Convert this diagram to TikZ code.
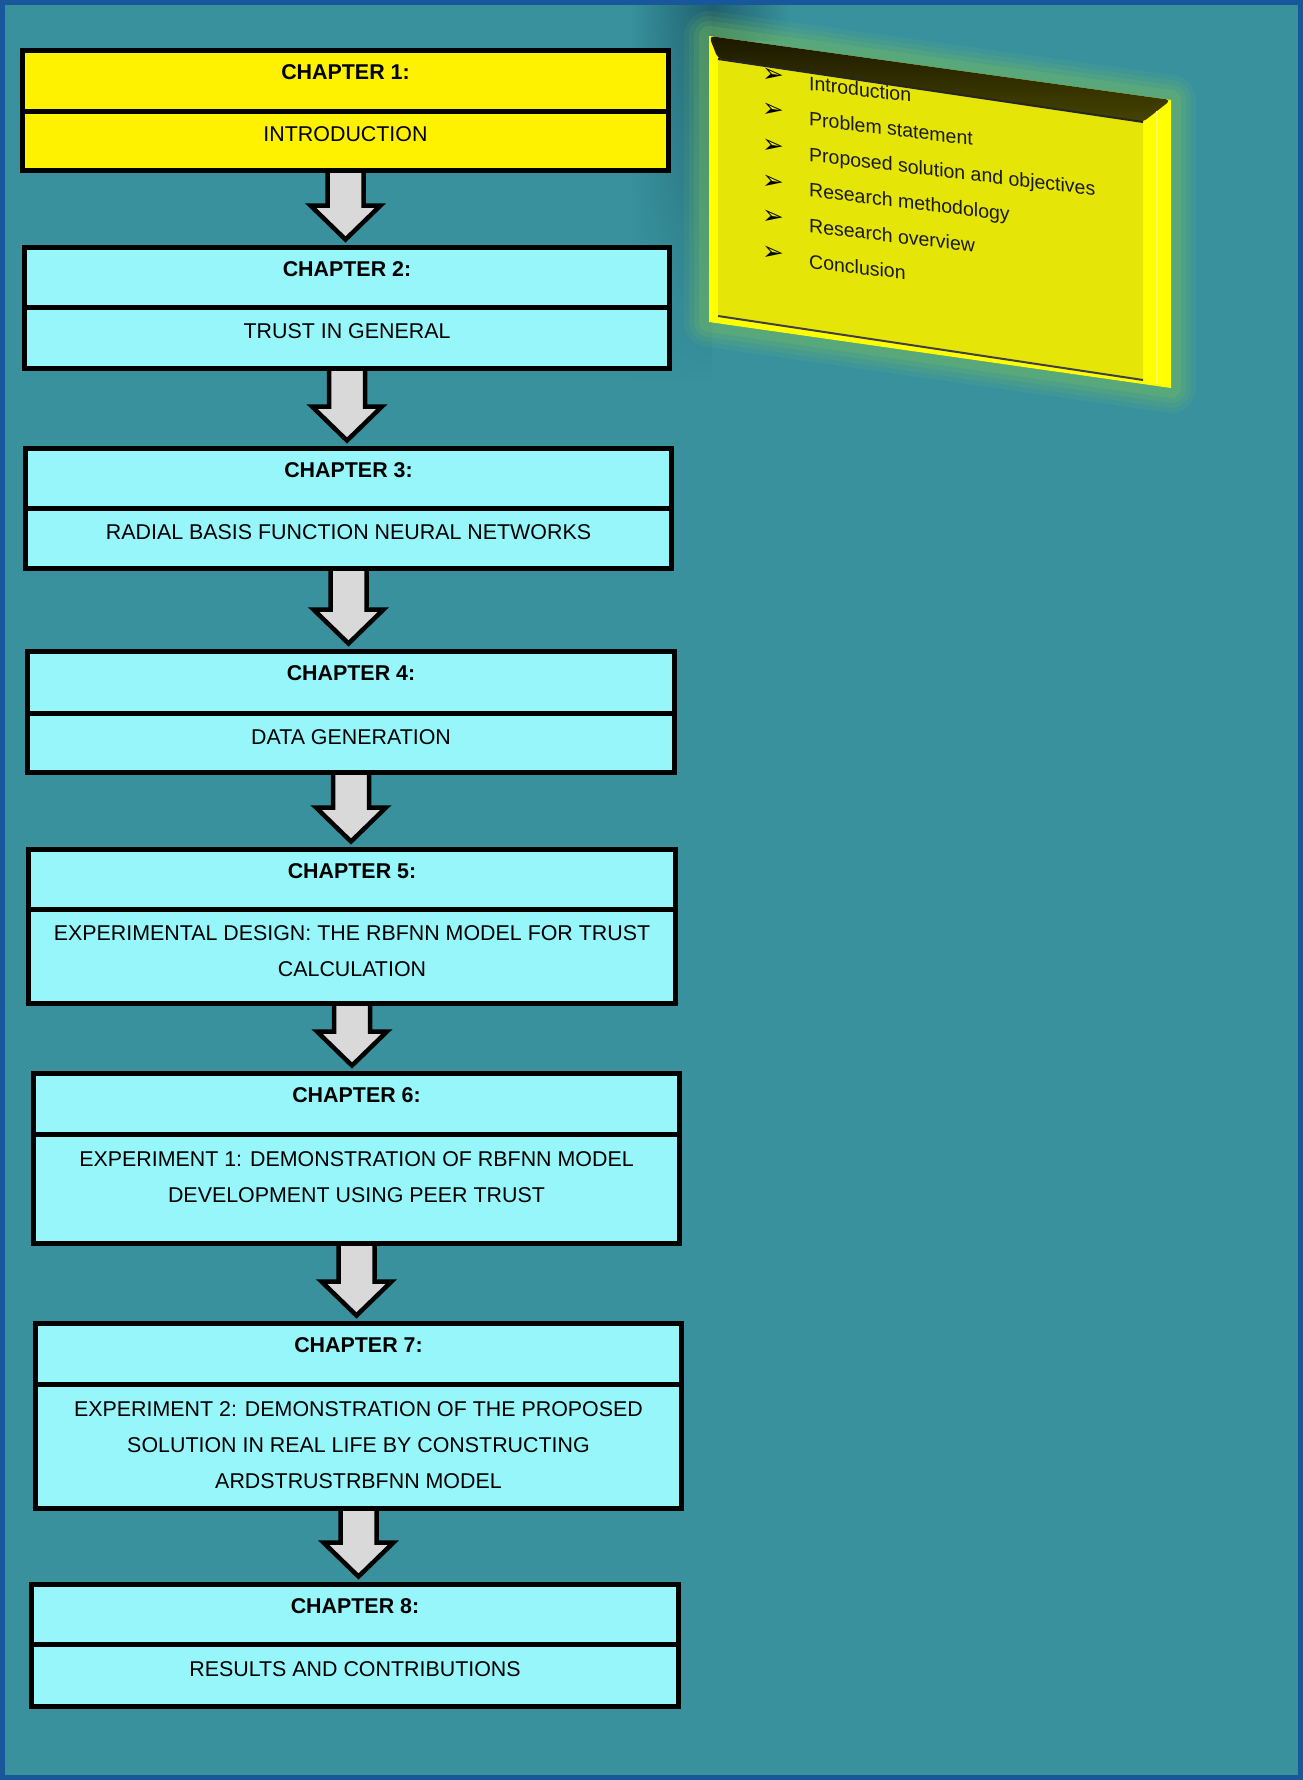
\documentclass[tikz,border=0pt]{standalone}
\usepackage{fontspec}
\setmainfont{Liberation Sans}
\newfontfamily\dingfont{DejaVu Sans}
\usetikzlibrary{calc,fadings}

\definecolor{pagebg}{RGB}{56,145,157}
\definecolor{framec}{RGB}{24,88,154}
\definecolor{cyanbox}{RGB}{150,246,250}
\definecolor{arrowgrey}{RGB}{217,217,217}
\definecolor{boardface}{RGB}{229,229,8}
\definecolor{boardedge}{RGB}{255,255,0}
\definecolor{boardtop}{RGB}{38,34,0}
\definecolor{glowc}{RGB}{125,195,90}
\definecolor{shadowc}{RGB}{32,96,110}

\pgfdeclarelayer{under}
\pgfsetlayers{under,main}

% block arrow from the bottom of one box to just above the next one
\newcommand\flowarrow[2]{%
  \draw[barrow] let \p1=(#1.south), \p2=(#2.north) in
    (\x1-18pt,\y1) -- (\x1-18pt,\y2+42pt) -- (\x1-35pt,\y2+42pt) --
    (\x1,\y2+8pt) -- (\x1+35pt,\y2+42pt) -- (\x1+18pt,\y2+42pt) --
    (\x1+18pt,\y1) -- cycle;}

\begin{document}
\begin{tikzpicture}[x=1pt,y=-1pt,
  part/.style={draw=black, line width=5pt, rectangle, inner sep=0pt,
    outer sep=0pt, anchor=north west},
  hdrtxt/.style={font=\fontsize{21.4}{36}\selectfont\bfseries, inner sep=0pt},
  bodytxt/.style={font=\fontsize{21.4}{36}\selectfont, inner sep=0pt, align=center},
  barrow/.style={draw=black, fill=arrowgrey, line width=4.5pt, line join=miter},
  paneltxt/.style={font=\fontsize{19.5}{24}\selectfont, inner sep=0pt,
    anchor=base west, text=black!90},
  bullet/.style={font=\dingfont\fontsize{26}{28}\selectfont, inner sep=0pt, text=black},
]
\useasboundingbox (0,0) rectangle (1303,1780);

% ---- chapter boxes: header part and body part ----
\node[part, fill=yellow, minimum width=646, minimum height=61] (h1) at (22.5,50.5) {};
\node[part, fill=yellow, minimum width=646, minimum height=59] (b1) at (22.5,111.5) {};
\node[hdrtxt] (ht1) at ($(h1.north)+(0,22)$) {CHAPTER 1:};
\node[bodytxt] (bt1) at ($(b1.north)+(0,23)$) {INTRODUCTION};

\node[part, fill=cyanbox, minimum width=645, minimum height=60] (h2) at (24.5,247.5) {};
\node[part, fill=cyanbox, minimum width=645, minimum height=61] (b2) at (24.5,307.5) {};
\node[hdrtxt] (ht2) at ($(h2.north)+(0,22)$) {CHAPTER 2:};
\node[bodytxt] (bt2) at ($(b2.north)+(0,24)$) {TRUST IN GENERAL};

\node[part, fill=cyanbox, minimum width=646, minimum height=60] (h3) at (25.5,448.5) {};
\node[part, fill=cyanbox, minimum width=646, minimum height=60] (b3) at (25.5,508.5) {};
\node[hdrtxt] (ht3) at ($(h3.north)+(0,22)$) {CHAPTER 3:};
\node[bodytxt] (bt3) at ($(b3.north)+(0,24)$) {RADIAL BASIS FUNCTION NEURAL NETWORKS};

\node[part, fill=cyanbox, minimum width=647, minimum height=62] (h4) at (27.5,651.5) {};
\node[part, fill=cyanbox, minimum width=647, minimum height=59] (b4) at (27.5,713.5) {};
\node[hdrtxt] (ht4) at ($(h4.north)+(0,22)$) {CHAPTER 4:};
\node[bodytxt] (bt4) at ($(b4.north)+(0,24)$) {DATA GENERATION};

\node[part, fill=cyanbox, minimum width=647, minimum height=60] (h5) at (28.5,849.5) {};
\node[part, fill=cyanbox, minimum width=647, minimum height=94] (b5) at (28.5,909.5) {};
\node[hdrtxt] (ht5) at ($(h5.north)+(0,22)$) {CHAPTER 5:};
\node[bodytxt] (bt5) at ($(b5.north)+(0,42)$) {EXPERIMENTAL DESIGN: THE RBFNN MODEL FOR TRUST\\CALCULATION};

\node[part, fill=cyanbox, minimum width=646, minimum height=61] (h6) at (33.5,1073.5) {};
\node[part, fill=cyanbox, minimum width=646, minimum height=109] (b6) at (33.5,1134.5) {};
\node[hdrtxt] (ht6) at ($(h6.north)+(0,22)$) {CHAPTER 6:};
\node[bodytxt] (bt6) at ($(b6.north)+(0,43)$) {EXPERIMENT 1: DEMONSTRATION OF RBFNN MODEL\\DEVELOPMENT USING PEER TRUST};

\node[part, fill=cyanbox, minimum width=646, minimum height=61] (h7) at (35.5,1323.5) {};
\node[part, fill=cyanbox, minimum width=646, minimum height=124] (b7) at (35.5,1384.5) {};
\node[hdrtxt] (ht7) at ($(h7.north)+(0,22)$) {CHAPTER 7:};
\node[bodytxt] (bt7) at ($(b7.north)+(0,61)$) {EXPERIMENT 2: DEMONSTRATION OF THE PROPOSED\\SOLUTION IN REAL LIFE BY CONSTRUCTING\\ARDSTRUSTRBFNN MODEL};

\node[part, fill=cyanbox, minimum width=647, minimum height=60] (h8) at (31.5,1584.5) {};
\node[part, fill=cyanbox, minimum width=647, minimum height=62] (b8) at (31.5,1644.5) {};
\node[hdrtxt] (ht8) at ($(h8.north)+(0,22)$) {CHAPTER 8:};
\node[bodytxt] (bt8) at ($(b8.north)+(0,25)$) {RESULTS AND CONTRIBUTIONS};

% ---- page background, shadow and arrows behind the boxes ----
\begin{pgfonlayer}{under}
  \fill[pagebg] (0,0) rectangle (1303,1780);
  \shade[left color=pagebg, right color=shadowc, path fading=south]
    (630,4) rectangle (712,380);
  \shade[left color=shadowc, right color=pagebg] (712,4) rectangle (790,40);
  \flowarrow{b1}{h2}
  \flowarrow{b2}{h3}
  \flowarrow{b3}{h4}
  \flowarrow{b4}{h5}
  \flowarrow{b5}{h6}
  \flowarrow{b6}{h7}
  \flowarrow{b7}{h8}
\end{pgfonlayer}

% ---- outline board with its glow ----
\coordinate (PA) at (709,36);
\coordinate (PB) at (1171,100);
\coordinate (PC) at (1171,388);
\coordinate (PD) at (709,322);
\coordinate (FA) at (718,59);
\coordinate (FB) at (1143,122);
\coordinate (FC) at (1143,380);
\coordinate (FD) at (718,316);

\begin{scope}[shift={(8,-5)}]
  \foreach \w/\o in {50/0.10, 40/0.12, 30/0.16, 20/0.22} {
    \draw[glowc, line width=\w pt, opacity=\o, line join=round]
      (PA) -- (PB) -- (PC) -- (PD) -- cycle;
  }
\end{scope}
\fill[boardedge] (PA) -- (PB) -- (PC) -- (PD) -- cycle;
\fill[boardface] (FA) -- (FB) -- (FC) -- (FD) -- cycle;
\shade[top color=boardtop!70!black, bottom color=boardtop!85!yellow, rounded corners=5pt]
  (PA) -- (PB) -- (FB) -- (FA) -- cycle;
\draw[yellow!60!white, line width=1.5pt] ($(PB)!0.5!(FB)$) -- ($(PC)!0.5!(FC)$);
\draw[black!85, line width=2pt] (FA) -- (FB);
\draw[black!75, line width=2pt] (FD) -- (FC);

\begin{scope}[shift={(809,90)}, yslant=-0.12, transform shape]
  \node[paneltxt] (p1) at (0,0) {Introduction};
  \node[paneltxt] (p2) at (0,35.6) {Problem statement};
  \node[paneltxt] (p3) at (0,71.2) {Proposed solution and objectives};
  \node[paneltxt] (p4) at (0,106.8) {Research methodology};
  \node[paneltxt] (p5) at (0,142.4) {Research overview};
  \node[paneltxt] (p6) at (0,178) {Conclusion};
  \foreach \i in {0,...,5} {
    \node[bullet] (m\i) at (-36,35.6*\i-10) {➢};
  }
\end{scope}

% ---- outer frame ----
\draw[framec, line width=5pt] (2.5,2.5) rectangle (1300.5,1777.5);
\end{tikzpicture}
\end{document}
